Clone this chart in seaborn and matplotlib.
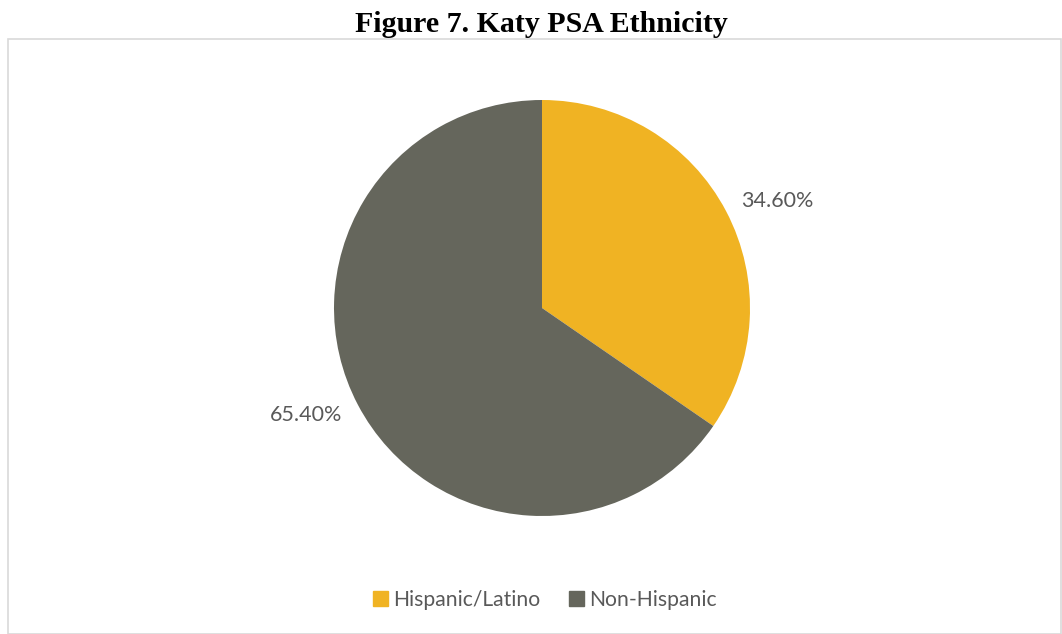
import matplotlib
matplotlib.use("Agg")
import matplotlib.pyplot as plt
import seaborn as sns
from matplotlib.patches import Rectangle, Patch

sns.set_theme(style="white")
plt.rcParams['font.family'] = ['Lato', 'DejaVu Sans']

categories = ["Hispanic/Latino", "Non-Hispanic"]
values = [34.6, 65.4]
colors = ["#F0B323", "#65665C"]

W, H = 1062, 634
fig = plt.figure(figsize=(W / 100, H / 100), dpi=100)

# chart border
fig.patches.append(Rectangle((8 / W, 0), (W - 9) / W, (H - 39) / H, transform=fig.transFigure,
                             fill=False, edgecolor="#D9D9D9", linewidth=1.2))

fig.text(541.5 / W, 1 - 24 / H, "Figure 7. Katy PSA Ethnicity", ha="center", va="center",
         fontsize=21.5, fontweight="bold", family=["Liberation Serif", "DejaVu Serif"], color="black")

cx, cy, r = 542, 308, 208
ax = fig.add_axes([(cx - r) / W, (H - cy - r) / H, 2 * r / W, 2 * r / H])
wedges, texts, autotexts = ax.pie(values, colors=colors, startangle=90, counterclock=False,
                                  autopct=lambda p: f"{p:.2f}%", pctdistance=1.28, radius=1,
                                  wedgeprops=dict(linewidth=0))
for t in autotexts:
    x, y = t.get_position()
    t.set_position((x, y * 0.86))
    t.set_color("#595959")
    t.set_fontsize(15.5)
ax.set_xlim(-1, 1)
ax.set_ylim(-1, 1)
ax.set_aspect("equal")
ax.axis("off")

handles = [Patch(facecolor=c, edgecolor=c) for c in colors]
fig.legend(handles, categories, loc="center", bbox_to_anchor=(545 / W, 1 - 600 / H), ncol=2,
           frameon=False, fontsize=15.2, labelcolor="#595959", handlelength=0.72, handleheight=0.72,
           handletextpad=0.25, columnspacing=1.35)

fig.savefig("out.png", dpi=100)
